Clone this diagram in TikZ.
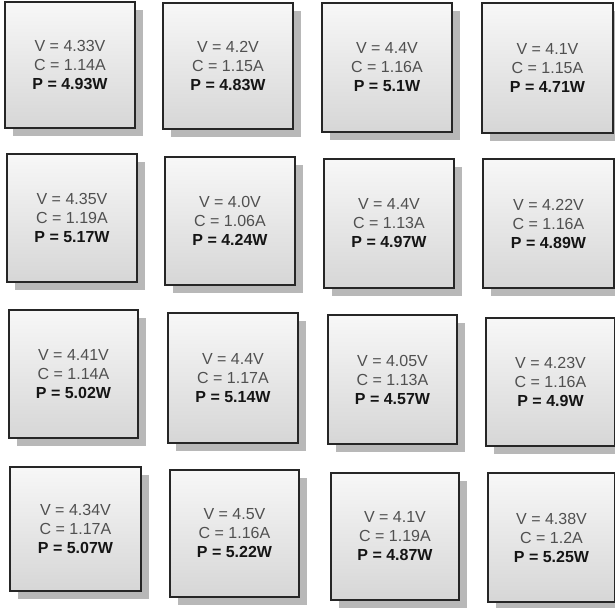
\documentclass[tikz,border=0pt]{standalone}
\usepackage{fontspec}
\setmainfont{Liberation Sans}
\usetikzlibrary{shadows}
\definecolor{txtgray}{HTML}{505050}
\definecolor{txtdark}{HTML}{151515}
\definecolor{edge}{HTML}{262626}
\tikzset{
  cell/.style={draw=edge, line width=1.8pt, top color=black!3, bottom color=black!16,
    inner sep=0pt, align=center, text=txtgray,
    font=\fontsize{16}{19}\selectfont,
    drop shadow={shadow xshift=8pt, shadow yshift=-8pt, fill=black!28, opacity=1}}
}
\newcommand\cellbox[8]{%
  \node[cell, minimum width={(#4-#2)*1pt}, minimum height={(#5-#3)*1pt}]
    (#1) at ({(#2+#4)/2},{(#3+#5)/2})
    {V = #6\\C = #7\\\textcolor{txtdark}{\textbf{P = #8}}};}
\begin{document}
\begin{tikzpicture}[x=1pt,y=-1pt]
\useasboundingbox[fill=white] (0,0) rectangle (615,607);
\cellbox{c11}{5}{2}{135}{128}{4.33V}{1.14A}{4.93W}
\cellbox{c12}{163}{3}{293}{129}{4.2V}{1.15A}{4.83W}
\cellbox{c13}{322}{3}{452}{132}{4.4V}{1.16A}{5.1W}
\cellbox{c14}{482}{3}{613}{133}{4.1V}{1.15A}{4.71W}
\cellbox{c21}{7}{154}{137}{282}{4.35V}{1.19A}{5.17W}
\cellbox{c22}{165}{157}{295}{285}{4.0V}{1.06A}{4.24W}
\cellbox{c23}{324}{159}{454}{288}{4.4V}{1.13A}{4.97W}
\cellbox{c24}{483}{159}{614}{288}{4.22V}{1.16A}{4.89W}
\cellbox{c31}{9}{310}{138}{438}{4.41V}{1.14A}{5.02W}
\cellbox{c32}{168}{313}{298}{443}{4.4V}{1.17A}{5.14W}
\cellbox{c33}{328}{315}{457}{444}{4.05V}{1.13A}{4.57W}
\cellbox{c34}{486}{318}{615}{446}{4.23V}{1.16A}{4.9W}
\cellbox{c41}{10}{467}{141}{591}{4.34V}{1.17A}{5.07W}
\cellbox{c42}{170}{470}{299}{597}{4.5V}{1.16A}{5.22W}
\cellbox{c43}{331}{473}{459}{600}{4.1V}{1.19A}{4.87W}
\cellbox{c44}{488}{473}{615}{602}{4.38V}{1.2A}{5.25W}
\end{tikzpicture}
\end{document}
